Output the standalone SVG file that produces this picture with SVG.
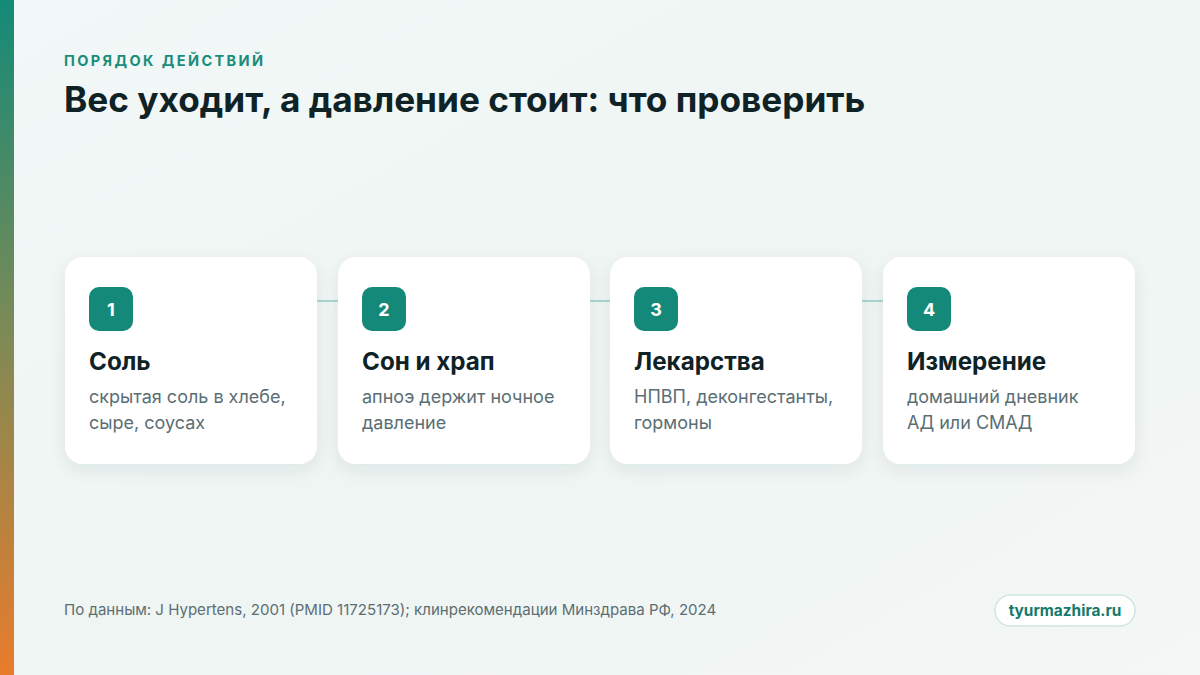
<svg xmlns="http://www.w3.org/2000/svg" width="1200" height="675" viewBox="0 0 1200 675">
<defs>
<linearGradient id="bg" x1="0" y1="0" x2="1" y2="1">
<stop offset="0" stop-color="#f2f8f7"/>
<stop offset="0.5" stop-color="#eef5f3"/>
<stop offset="1" stop-color="#f3f7f6"/>
</linearGradient>
<linearGradient id="bar" x1="0" y1="0" x2="0" y2="1">
<stop offset="0" stop-color="#138a78"/>
<stop offset="0.5" stop-color="#7f8a55"/>
<stop offset="1" stop-color="#e97c2c"/>
</linearGradient>
<filter id="sh" x="-20%" y="-20%" width="140%" height="150%">
<feDropShadow dx="0" dy="6" stdDeviation="8" flood-color="#0f3a35" flood-opacity="0.08"/>
</filter>
<style>
.card{fill:#ffffff;filter:url(#sh);}
.badge{fill:#14897a;}
.num{font-family:Inter,"Liberation Sans",sans-serif;font-weight:700;font-size:18px;fill:#ffffff;text-anchor:middle;}
.ttl{font-family:Inter,"Liberation Sans",sans-serif;font-weight:700;font-size:24.2px;fill:#0f2226;}
.dsc{font-family:Inter,"Liberation Sans",sans-serif;font-size:18px;fill:#5a6e74;}
.con{stroke:#a9d6d0;stroke-width:2;}
</style>
</defs>
<rect width="1200" height="675" fill="url(#bg)"/>
<rect x="0" y="0" width="14" height="675" fill="url(#bar)"/>
<text x="64" y="66" font-family="Inter,'Liberation Sans',sans-serif" font-weight="700" font-size="14.5" letter-spacing="2.4" fill="#1a8c7a">ПОРЯДОК ДЕЙСТВИЙ</text>
<text x="64" y="112" font-family="Inter,'Liberation Sans',sans-serif" font-weight="700" font-size="35.2" fill="#0f2226">Вес уходит, а давление стоит: что проверить</text>
<g id="connectors">
<line class="con" x1="317" y1="301" x2="338" y2="301"/>
<line class="con" x1="590" y1="301" x2="610" y2="301"/>
<line class="con" x1="862" y1="301" x2="883" y2="301"/>
</g>
<g id="step1">
<rect class="card" x="65" y="257" width="252" height="207" rx="18"/>
<rect class="badge" x="89" y="287" width="44" height="44" rx="10"/>
<text class="num" x="111" y="315.5">1</text>
<text class="ttl" x="89" y="370">Соль</text>
<text class="dsc" x="89" y="403">скрытая соль в хлебе,</text>
<text class="dsc" x="89" y="429">сыре, соусах</text>
</g>
<g id="step2">
<rect class="card" x="338" y="257" width="252" height="207" rx="18"/>
<rect class="badge" x="362" y="287" width="44" height="44" rx="10"/>
<text class="num" x="384" y="315.5">2</text>
<text class="ttl" x="362" y="370">Сон и храп</text>
<text class="dsc" x="362" y="403">апноэ держит ночное</text>
<text class="dsc" x="362" y="429">давление</text>
</g>
<g id="step3">
<rect class="card" x="610" y="257" width="252" height="207" rx="18"/>
<rect class="badge" x="634" y="287" width="44" height="44" rx="10"/>
<text class="num" x="656" y="315.5">3</text>
<text class="ttl" x="634" y="370">Лекарства</text>
<text class="dsc" x="634" y="403">НПВП, деконгестанты,</text>
<text class="dsc" x="634" y="429">гормоны</text>
</g>
<g id="step4">
<rect class="card" x="883" y="257" width="252" height="207" rx="18"/>
<rect class="badge" x="907" y="287" width="44" height="44" rx="10"/>
<text class="num" x="929" y="315.5">4</text>
<text class="ttl" x="907" y="370">Измерение</text>
<text class="dsc" x="907" y="403">домашний дневник</text>
<text class="dsc" x="907" y="429">АД или СМАД</text>
</g>
<text x="64" y="615" font-family="Inter,'Liberation Sans',sans-serif" font-size="15.05" fill="#5d6e73">По данным: J Hypertens, 2001 (PMID 11725173); клинрекомендации Минздрава РФ, 2024</text>
<g id="brand">
<rect x="995" y="595" width="140" height="31" rx="15.5" fill="#ffffff" stroke="#cfe6e1" stroke-width="1.5"/>
<text x="1065" y="616" text-anchor="middle" font-family="Inter,'Liberation Sans',sans-serif" font-weight="700" font-size="15.4" fill="#147a6c">tyurmazhira.ru</text>
</g>
</svg>
